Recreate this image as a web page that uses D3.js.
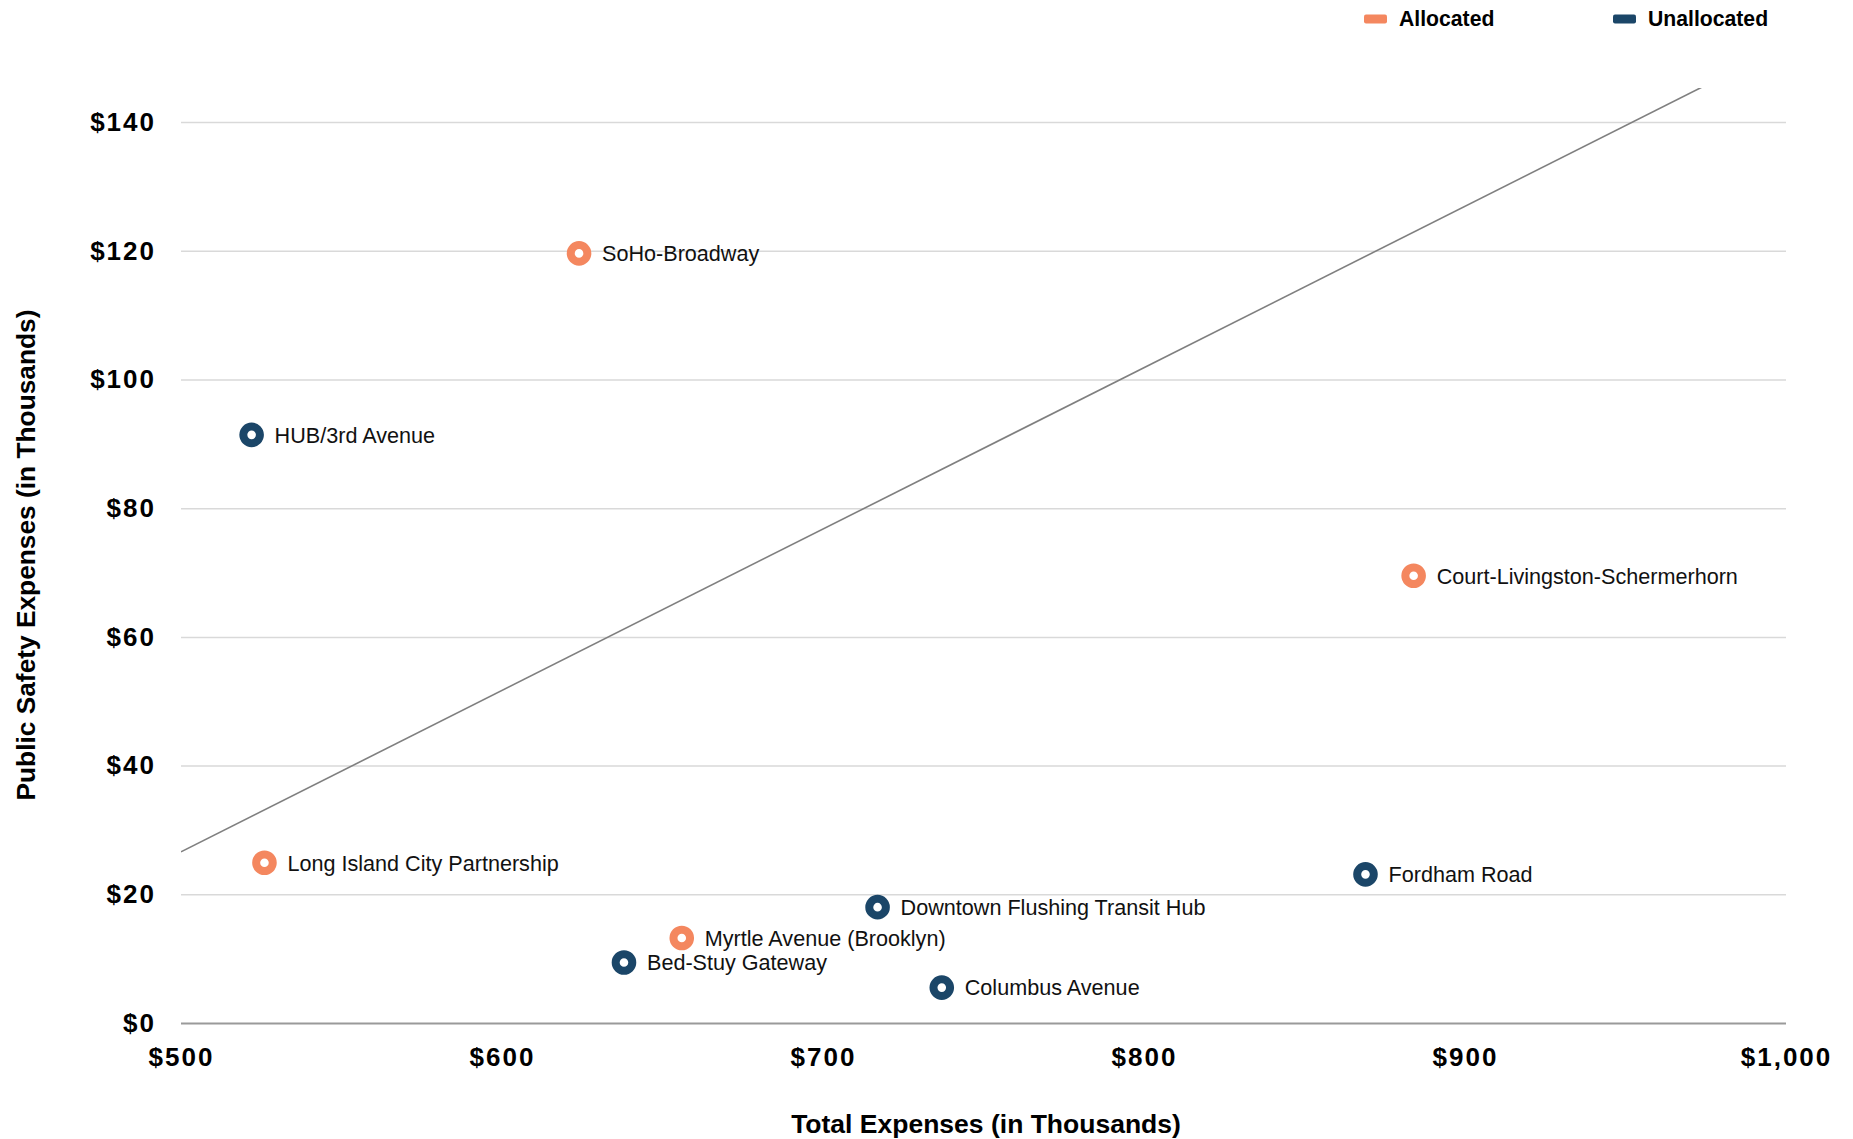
<!DOCTYPE html>
<html>
<head>
<meta charset="utf-8">
<script src="https://cdn.jsdelivr.net/npm/d3@7"></script>
<style>
  html, body { margin: 0; padding: 0; background: #fff; }
  svg { display: block; font-family: "Liberation Sans", Arial, Helvetica, sans-serif; }
</style>
</head>
<body>
<svg id="chart" width="1853" height="1139"></svg>
<script>
// ---- data ----
const districts = ["SoHo-Broadway", "HUB/3rd Avenue", "Court-Livingston-Schermerhorn", "Long Island City Partnership", "Fordham Road", "Downtown Flushing Transit Hub", "Myrtle Avenue (Brooklyn)", "Bed-Stuy Gateway", "Columbus Avenue"];
const totalExpenses = [624, 522, 884, 526, 869, 717, 656, 638, 737];
const publicSafety = [119.6, 91.4, 69.5, 24.9, 23.1, 18.0, 13.2, 9.4, 5.5];
const status = ["Allocated", "Unallocated", "Allocated", "Allocated", "Unallocated", "Unallocated", "Allocated", "Unallocated", "Unallocated"];
const legendLabels = ["Allocated", "Unallocated"];
const legendColors = ["#f4875f", "#1b4668"];
const xTicks = [500, 600, 700, 800, 900, 1000];
const yTicks = [0, 20, 40, 60, 80, 100, 120, 140];
const trendX = [500, 1000];
const trendY = [26.6, 152.0];

// ---- layout ----
const svg = d3.select("#chart");
const mLeft = 181, mRight = 1786, mTop = 88, mBottom = 1023;
const x = d3.scaleLinear().domain([500, 1000]).range([mLeft, mRight]);
const y = d3.scaleLinear().domain([0, 145.3]).range([mBottom, mTop]);
const color = d3.scaleOrdinal().domain(legendLabels).range(legendColors);
const fmt = d => "$" + d3.format(",")(d);

svg.append("defs").append("clipPath").attr("id", "plot")
  .append("rect").attr("x", mLeft).attr("y", mTop).attr("width", mRight - mLeft).attr("height", mBottom - mTop);

// gridlines (y)
const yAxis = d3.axisLeft(y).tickValues(yTicks).tickSize(-(mRight - mLeft)).tickPadding(25).tickFormat(fmt);
const gy = svg.append("g").attr("transform", `translate(${mLeft},0)`).call(yAxis);
gy.select(".domain").remove();
gy.selectAll(".tick line").attr("stroke", d => d === 0 ? "#9a9a9a" : "#d9d9d9").attr("stroke-width", d => d === 0 ? 2 : 1.5);
gy.selectAll(".tick text").attr("font-size", 26).attr("font-weight", "bold").attr("fill", "#000").attr("letter-spacing", "2px");

// x axis labels
const xAxis = d3.axisBottom(x).tickValues(xTicks).tickSize(0).tickPadding(25).tickFormat(fmt);
const gx = svg.append("g").attr("transform", `translate(0,${mBottom})`).call(xAxis);
gx.select(".domain").remove();
gx.selectAll(".tick text").attr("font-size", 26).attr("font-weight", "bold").attr("fill", "#000").attr("letter-spacing", "2px");

// trend line
svg.append("line")
  .attr("clip-path", "url(#plot)")
  .attr("x1", x(trendX[0])).attr("y1", y(trendY[0]))
  .attr("x2", x(trendX[1])).attr("y2", y(trendY[1]))
  .attr("stroke", "#7f7f7f").attr("stroke-width", 1.6);

// points
const pts = districts.map((d, i) => ({ name: d, x: totalExpenses[i], y: publicSafety[i], s: status[i] }));
const g = svg.append("g").selectAll("g").data(pts).join("g")
  .attr("transform", d => `translate(${x(d.x)},${y(d.y)})`);
g.append("circle").attr("r", 8.3).attr("fill", "#fff")
  .attr("stroke", d => color(d.s)).attr("stroke-width", 8);
g.append("text").attr("x", 23).attr("dy", "0.36em")
  .attr("font-size", 21.6).attr("fill", "#111").text(d => d.name);

// axis titles
svg.append("text").attr("x", 986).attr("y", 1133)
  .attr("text-anchor", "middle").attr("font-size", 26.5).attr("font-weight", "bold").text("Total Expenses (in Thousands)");
svg.append("text").attr("transform", "translate(35,555) rotate(-90)")
  .attr("text-anchor", "middle").attr("font-size", 26.3).attr("font-weight", "bold").text("Public Safety Expenses (in Thousands)");

// legend
const legX = [1364, 1613];
const lg = svg.append("g").selectAll("g").data(legendLabels).join("g")
  .attr("transform", (d, i) => `translate(${legX[i]},19)`);
lg.append("rect").attr("x", 0).attr("y", -4.5).attr("width", 23).attr("height", 9).attr("rx", 2)
  .attr("fill", d => color(d));
lg.append("text").attr("x", 35).attr("dy", "0.35em").attr("font-size", 21.2).attr("font-weight", "bold").text(d => d);
</script>
</body>
</html>
